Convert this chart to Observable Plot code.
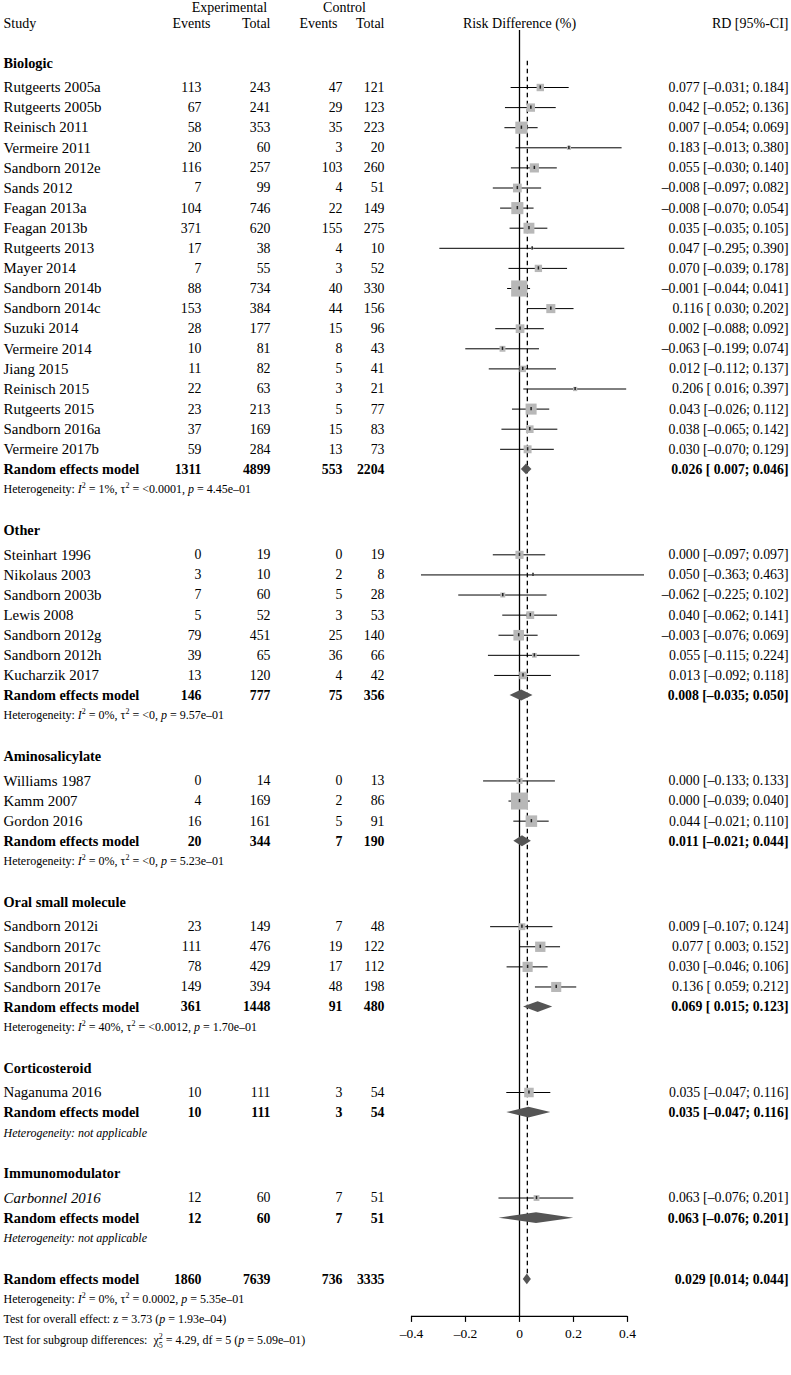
<!DOCTYPE html>
<html>
<head>
<meta charset="utf-8">
<script src="https://cdn.jsdelivr.net/npm/d3@7"></script>
<script src="https://cdn.jsdelivr.net/npm/@observablehq/plot@0.6"></script>
<style>
  html, body { margin: 0; padding: 0; background: #fff; }
  #chart { width: 791px; height: 1375px; }
</style>
</head>
<body>
<div id="chart"></div>
<script>
// ---------------- DATA ----------------
const groupNames = ["Biologic", "Other", "Aminosalicylate", "Oral small molecule", "Corticosteroid", "Immunomodulator"];
const groupSizes = [19, 7, 3, 4, 1, 1];

const studyNames = [
  "Rutgeerts 2005a", "Rutgeerts 2005b", "Reinisch 2011", "Vermeire 2011", "Sandborn 2012e", "Sands 2012",
  "Feagan 2013a", "Feagan 2013b", "Rutgeerts 2013", "Mayer 2014", "Sandborn 2014b", "Sandborn 2014c",
  "Suzuki 2014", "Vermeire 2014", "Jiang 2015", "Reinisch 2015", "Rutgeerts 2015", "Sandborn 2016a", "Vermeire 2017b",
  "Steinhart 1996", "Nikolaus 2003", "Sandborn 2003b", "Lewis 2008", "Sandborn 2012g", "Sandborn 2012h", "Kucharzik 2017",
  "Williams 1987", "Kamm 2007", "Gordon 2016",
  "Sandborn 2012i", "Sandborn 2017c", "Sandborn 2017d", "Sandborn 2017e",
  "Naganuma 2016",
  "Carbonnel 2016"
];
const expEvents = [113, 67, 58, 20, 116, 7, 104, 371, 17, 7, 88, 153, 28, 10, 11, 22, 23, 37, 59,
  0, 3, 7, 5, 79, 39, 13,
  0, 4, 16,
  23, 111, 78, 149,
  10,
  12];
const expTotal = [243, 241, 353, 60, 257, 99, 746, 620, 38, 55, 734, 384, 177, 81, 82, 63, 213, 169, 284,
  19, 10, 60, 52, 451, 65, 120,
  14, 169, 161,
  149, 476, 429, 394,
  111,
  60];
const ctlEvents = [47, 29, 35, 3, 103, 4, 22, 155, 4, 3, 40, 44, 15, 8, 5, 3, 5, 15, 13,
  0, 2, 5, 3, 25, 36, 4,
  0, 2, 5,
  7, 19, 17, 48,
  3,
  7];
const ctlTotal = [121, 123, 223, 20, 260, 51, 149, 275, 10, 52, 330, 156, 96, 43, 41, 21, 77, 83, 73,
  19, 8, 28, 53, 140, 66, 42,
  13, 86, 91,
  48, 122, 112, 198,
  54,
  51];
const rdEst = [0.077, 0.042, 0.007, 0.183, 0.055, -0.008, -0.008, 0.035, 0.047, 0.070, -0.001, 0.116, 0.002, -0.063, 0.012, 0.206, 0.043, 0.038, 0.030,
  0.000, 0.050, -0.062, 0.040, -0.003, 0.055, 0.013,
  0.000, 0.000, 0.044,
  0.009, 0.077, 0.030, 0.136,
  0.035,
  0.063];
const rdLow = [-0.031, -0.052, -0.054, -0.013, -0.030, -0.097, -0.070, -0.035, -0.295, -0.039, -0.044, 0.030, -0.088, -0.199, -0.112, 0.016, -0.026, -0.065, -0.070,
  -0.097, -0.363, -0.225, -0.062, -0.076, -0.115, -0.092,
  -0.133, -0.039, -0.021,
  -0.107, 0.003, -0.046, 0.059,
  -0.047,
  -0.076];
const rdHigh = [0.184, 0.136, 0.069, 0.380, 0.140, 0.082, 0.054, 0.105, 0.390, 0.178, 0.041, 0.202, 0.092, 0.074, 0.137, 0.397, 0.112, 0.142, 0.129,
  0.097, 0.463, 0.102, 0.141, 0.069, 0.224, 0.118,
  0.133, 0.040, 0.110,
  0.124, 0.152, 0.106, 0.212,
  0.116,
  0.201];
const italicStudies = ["Carbonnel 2016"];

const pooledExpEvents = [1311, 146, 20, 361, 10, 12];
const pooledExpTotal = [4899, 777, 344, 1448, 111, 60];
const pooledCtlEvents = [553, 75, 7, 91, 3, 7];
const pooledCtlTotal = [2204, 356, 190, 480, 54, 51];
const pooledEst = [0.026, 0.008, 0.011, 0.069, 0.035, 0.063];
const pooledLow = [0.007, -0.035, -0.021, 0.015, -0.047, -0.076];
const pooledHigh = [0.046, 0.050, 0.044, 0.123, 0.116, 0.201];
const heterogeneityText = [
  "Heterogeneity: *I*^2^ = 1%, τ^2^ = <0.0001, *p* = 4.45e–01",
  "Heterogeneity: *I*^2^ = 0%, τ^2^ = <0, *p* = 9.57e–01",
  "Heterogeneity: *I*^2^ = 0%, τ^2^ = <0, *p* = 5.23e–01",
  "Heterogeneity: *I*^2^ = 40%, τ^2^ = <0.0012, *p* = 1.70e–01",
  "*Heterogeneity: not applicable*",
  "*Heterogeneity: not applicable*"
];

const overallCounts = [1860, 7639, 736, 3335];
const overallEst = 0.029, overallLow = 0.014, overallHigh = 0.044;
const overallTau2 = 0.0002;
const overallNotes = [
  "Heterogeneity: *I*^2^ = 0%, τ^2^ = 0.0002, *p* = 5.35e–01",
  "Test for overall effect: z = 3.73 (*p* = 1.93e–04)",
  "Test for subgroup differences:  χ^2^~5~ = 4.29, df = 5 (*p* = 5.09e–01)"
];
const pooledLabel = "Random effects model";

const xTicks = [-0.4, -0.2, 0, 0.2, 0.4];
const xTickLabels = ["–0.4", "–0.2", "0", "0.2", "0.4"];

// ---------------- LAYOUT / STYLE ----------------
const W = 791, H = 1375;
const FONT = "'Liberation Serif', 'Times New Roman', Times, serif";
const FS_NAME = 14.9, FS_BOLD = 14.3, FS_NUM = 13.8, FS_HDR = 14, FS_HET = 12, FS_AXIS = 13.5;
const ROW_PX = 20.1;          // pixel height of a row
const FIRST_ROW_Y = 87;       // pixel centre of the first study row
const ML = 411, MR = 164;     // forest panel edges
const COLX = { study: 3, expEv: 201, expTot: 270, ctlEv: 342, ctlTot: 384, rd: 788,
               expEvHdr: 210, ctlEvHdr: 337, expHdr: 229, ctlHdr: 344, forest: 519 };
const ROW_GROUPHDR_GAP = 1.2, ROW_GROUP_GAP = 2.05;
const ROW_TOPHDR = -3.98, ROW_COLHDR = -3.18, ROW_ZERO_TOP = -2.84, ROW_DASH_TOP = -1.3;
const DIAMOND_H = 0.27, AXIS_OFFSET = 1.84, MAX_SIDE = 17;
const SQUARE_FILL = "#b8b8b8", DIAMOND_FILL = "#555555";

// ---------------- BUILD ROWS ----------------
const num = v => (v < 0 ? "–" : "") + Math.abs(v).toFixed(3);
const ciText = (e, lo, hi, pad = true) => `${num(e)} [${pad && lo >= 0 ? " " : ""}${num(lo)}; ${num(hi)}]`;

const headerRows = [], studyRows = [], pooledRows = [], hetRows = [];
let r = -ROW_GROUPHDR_GAP, k = 0;
groupNames.forEach((g, gi) => {
  headerRows.push({ text: g, row: r });
  r += ROW_GROUPHDR_GAP;
  for (let j = 0; j < groupSizes[gi]; j++, k++) {
    const se = (rdHigh[k] - rdLow[k]) / (2 * 1.959964);
    studyRows.push({
      name: studyNames[k], ee: String(expEvents[k]), et: String(expTotal[k]), ce: String(ctlEvents[k]), ct: String(ctlTotal[k]),
      est: rdEst[k], lo: rdLow[k], hi: rdHigh[k], sqrtW: 1 / Math.sqrt(se * se + overallTau2),
      ci: ciText(rdEst[k], rdLow[k], rdHigh[k]), italic: italicStudies.includes(studyNames[k]), row: r
    });
    r += 1;
  }
  pooledRows.push({
    name: pooledLabel, ee: String(pooledExpEvents[gi]), et: String(pooledExpTotal[gi]), ce: String(pooledCtlEvents[gi]), ct: String(pooledCtlTotal[gi]),
    est: pooledEst[gi], lo: pooledLow[gi], hi: pooledHigh[gi], ci: ciText(pooledEst[gi], pooledLow[gi], pooledHigh[gi]), row: r, id: g
  });
  r += 1;
  hetRows.push({ text: heterogeneityText[gi], row: r });
  r += ROW_GROUP_GAP;
});
const overallRow = r;
pooledRows.push({
  name: pooledLabel, ee: String(overallCounts[0]), et: String(overallCounts[1]), ce: String(overallCounts[2]), ct: String(overallCounts[3]),
  est: overallEst, lo: overallLow, hi: overallHigh, ci: ciText(overallEst, overallLow, overallHigh, false), row: overallRow, id: "overall"
});
overallNotes.forEach((t, i) => hetRows.push({ text: t, row: overallRow + 1 + i }));
const axisRow = overallRow + AXIS_OFFSET;

const diamondPts = pooledRows.flatMap(d => [
  { id: d.id, y: d.row - DIAMOND_H, x1: d.est, x2: d.est },
  { id: d.id, y: d.row, x1: d.lo, x2: d.hi },
  { id: d.id, y: d.row + DIAMOND_H, x1: d.est, x2: d.est }
]);

const maxSqrtW = d3.max(studyRows, d => d.sqrtW);
const marginBottom = H - (FIRST_ROW_Y + axisRow * ROW_PX);

// text helper: a column positioned from the forest panel's left edge
function col(data, text, xpx, anchor, opts = {}) {
  return Plot.text(data, {
    y: "row", text, frameAnchor: "left", dx: xpx - ML, textAnchor: anchor,
    fontSize: FS_NAME, lineAnchor: "middle", fill: "black", ...opts
  });
}
const hdr = (label, row, xpx, anchor) => col([{ t: label, row }], "t", xpx, anchor, { fontSize: FS_HDR });

const regular = studyRows.filter(d => !d.italic), italics = studyRows.filter(d => d.italic);
const numCols = (data, opts = {}) => [
  col(data, "ee", COLX.expEv, "end", { fontSize: FS_NUM, ...opts }),
  col(data, "et", COLX.expTot, "end", { fontSize: FS_NUM, ...opts }),
  col(data, "ce", COLX.ctlEv, "end", { fontSize: FS_NUM, ...opts }),
  col(data, "ct", COLX.ctlTot, "end", { fontSize: FS_NUM, ...opts }),
  col(data, "ci", COLX.rd, "end", { fontSize: FS_NUM, ...opts })
];

const plot = Plot.plot({
  width: W, height: H,
  marginLeft: ML, marginRight: MR, marginTop: 0, marginBottom,
  x: { domain: [xTicks[0], xTicks[xTicks.length - 1]], axis: null },
  y: { type: "linear", domain: [0, 1], range: [FIRST_ROW_Y, FIRST_ROW_Y + ROW_PX], axis: null },
  r: { type: "linear", domain: [0, maxSqrtW], range: [0, MAX_SIDE / Math.sqrt(Math.PI)] },
  style: { fontFamily: FONT, fontSize: FS_NAME + "px", background: "white", color: "black" },
  marks: [
    // reference lines
    Plot.ruleX([0], { x: d => d, y1: () => ROW_ZERO_TOP, y2: () => axisRow, stroke: "black", strokeWidth: 1.3 }),
    Plot.ruleX([overallEst], { x: d => d, y1: () => ROW_DASH_TOP, y2: () => overallRow, stroke: "black", strokeWidth: 1.3, strokeDasharray: "4.5,3.5" }),
    // study CIs, squares and point marks
    Plot.ruleY(studyRows, { y: "row", x1: "lo", x2: "hi", stroke: "black", strokeWidth: 1 }),
    Plot.dot(studyRows, { x: "est", y: "row", r: "sqrtW", symbol: "square", fill: SQUARE_FILL, stroke: "none" }),
    Plot.ruleX(studyRows, { x: "est", y1: d => d.row - 0.08, y2: d => d.row + 0.08, stroke: "#222", strokeWidth: 1.5 }),
    // pooled diamonds
    Plot.areaX(diamondPts, { x1: "x1", x2: "x2", y: "y", z: "id", fill: DIAMOND_FILL, curve: "linear" }),
    // axis
    Plot.ruleY([axisRow], { y: d => d, x1: () => xTicks[0], x2: () => xTicks[xTicks.length - 1], stroke: "black", strokeWidth: 1.2 }),
    Plot.axisX({ ticks: xTicks, tickFormat: d => xTickLabels[xTicks.indexOf(d)], tickSize: 6, tickPadding: 6, fontSize: FS_AXIS, label: null, strokeWidth: 1.2 }),
    // column headers
    hdr("Experimental", ROW_TOPHDR, COLX.expHdr, "middle"),
    hdr("Control", ROW_TOPHDR, COLX.ctlHdr, "middle"),
    hdr("Study", ROW_COLHDR, COLX.study, "start"),
    hdr("Events", ROW_COLHDR, COLX.expEvHdr, "end"),
    hdr("Total", ROW_COLHDR, COLX.expTot, "end"),
    hdr("Events", ROW_COLHDR, COLX.ctlEvHdr, "end"),
    hdr("Total", ROW_COLHDR, COLX.ctlTot, "end"),
    hdr("Risk Difference (%)", ROW_COLHDR, COLX.forest, "middle"),
    hdr("RD [95%-CI]", ROW_COLHDR, COLX.rd, "end"),
    // group headers
    col(headerRows, "text", COLX.study, "start", { fontWeight: "bold", fontSize: FS_BOLD }),
    // studies
    col(regular, "name", COLX.study, "start"),
    col(italics, "name", COLX.study, "start", { fontStyle: "italic" }),
    ...numCols(studyRows),
    // pooled rows
    col(pooledRows, "name", COLX.study, "start", { fontWeight: "bold", fontSize: FS_BOLD }),
    ...numCols(pooledRows, { fontWeight: "bold" }),
    // heterogeneity & tests
    col(hetRows, "text", COLX.study, "start", { fontSize: FS_HET })
  ]
});

// rich text: *italic*, ^superscript^, ~subscript (stacked under superscript)~
const NS = "http://www.w3.org/2000/svg";
plot.querySelectorAll("text").forEach(t => {
  const s = t.textContent;
  if (!/[*^~]/.test(s)) return;
  const parts = s.split(/(\*[^*]+\*|\^[^^]+\^|~[^~]+~)/).filter(p => p);
  t.textContent = "";
  let shift = 0, lastSupW = 0;
  for (const p of parts) {
    const ts = document.createElementNS(NS, "tspan");
    let target = 0, txt = p;
    if (p[0] === "*") { txt = p.slice(1, -1); ts.setAttribute("font-style", "italic"); }
    else if (p[0] === "^") { txt = p.slice(1, -1); target = -5; ts.setAttribute("font-size", "8"); lastSupW = 4.1 * txt.length; }
    else if (p[0] === "~") { txt = p.slice(1, -1); target = 4; ts.setAttribute("font-size", "8"); ts.setAttribute("dx", -lastSupW); }
    if (target - shift !== 0) ts.setAttribute("dy", target - shift);
    shift = target;
    ts.textContent = txt;
    t.appendChild(ts);
  }
});

document.getElementById("chart").appendChild(plot);
</script>
</body>
</html>
